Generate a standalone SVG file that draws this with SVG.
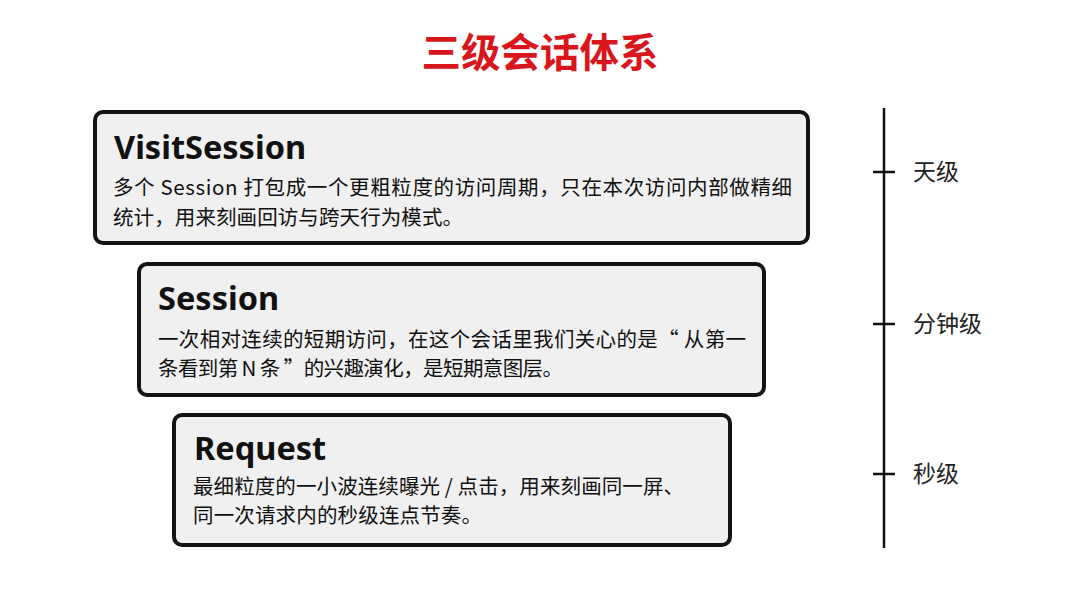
<svg xmlns="http://www.w3.org/2000/svg" width="1080" height="608" viewBox="0 0 1080 608">
<style>
.box{fill:#f0f0f0;stroke:#141414;stroke-width:4}
.t{font-family:"Noto Sans","Noto Sans CJK SC",sans-serif;font-weight:700;font-size:32.5px;fill:#111}
.b{font-family:"Noto Sans CJK SC","Noto Sans",sans-serif;font-size:20.5px;fill:#111}
.lab{font-family:"Noto Sans CJK SC",sans-serif;font-size:23px;fill:#222}
.ax{stroke:#111;stroke-width:2.5;fill:none}
</style>
<rect width="1080" height="608" fill="#ffffff"/>
<text x="540" y="67" text-anchor="middle" style="font-family:'Noto Sans CJK SC',sans-serif;font-weight:700;font-size:39.5px;fill:#d9161c">三级会话体系</text>
<g id="visitsession">
<rect class="box" x="95" y="112" width="713" height="131" rx="8"/>
<text class="t" x="114" y="159">VisitSession</text>
<text class="b" x="113" y="195" textLength="679" lengthAdjust="spacing">多个 Session 打包成一个更粗粒度的访问周期，只在本次访问内部做精细</text>
<text class="b" x="113" y="225" textLength="350" lengthAdjust="spacing">统计，用来刻画回访与跨天行为模式。</text>
</g>
<g id="session">
<rect class="box" x="139" y="264" width="625" height="131" rx="8"/>
<text class="t" x="158" y="310">Session</text>
<text class="b" x="158" y="347" textLength="588" lengthAdjust="spacing">一次相对连续的短期访问，在这个会话里我们关心的是“ 从第一</text>
<text class="b" x="158" y="376" textLength="405" lengthAdjust="spacing">条看到第 N 条 ”的兴趣演化，是短期意图层。</text>
</g>
<g id="request">
<rect class="box" x="174" y="415" width="556" height="130" rx="8"/>
<text class="t" x="194" y="460">Request</text>
<text class="b" x="193" y="494" textLength="491" lengthAdjust="spacing">最细粒度的一小波连续曝光 / 点击，用来刻画同一屏、</text>
<text class="b" x="193" y="523" textLength="289" lengthAdjust="spacing">同一次请求内的秒级连点节奏。</text>
</g>
<g id="connectors">
<line class="ax" x1="884" y1="108" x2="884" y2="548"/>
<line class="ax" x1="873" y1="172" x2="895" y2="172"/>
<line class="ax" x1="873" y1="324" x2="895" y2="324"/>
<line class="ax" x1="873" y1="474" x2="895" y2="474"/>
</g>
<g id="axis-labels">
<text class="lab" x="913" y="180">天级</text>
<text class="lab" x="913" y="332">分钟级</text>
<text class="lab" x="913" y="482">秒级</text>
</g>
</svg>
